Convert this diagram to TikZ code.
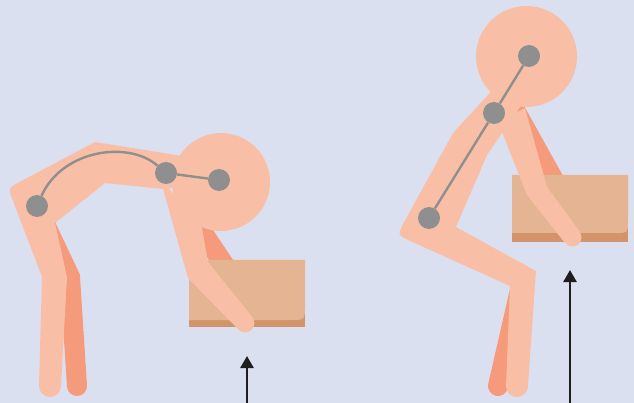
\documentclass[tikz,border=0pt]{standalone}
\usetikzlibrary{arrows.meta}
\definecolor{bgblue}{RGB}{218,224,240}
\definecolor{skin}{RGB}{249,191,166}
\definecolor{skindark}{RGB}{245,154,122}
\definecolor{boxtop}{RGB}{229,180,147}
\definecolor{boxbase}{RGB}{211,148,108}
\definecolor{bone}{RGB}{143,143,143}
\definecolor{ink}{RGB}{30,30,30}

\begin{document}
\begin{tikzpicture}[x=1pt, y=-1pt,
    farlimb/.style={draw=skindark, line width=20pt, line cap=round, line join=miter},
    joint/.style={circle, fill=bone, minimum size=22pt, inner sep=0pt},
    spine/.style={draw=bone, line width=2.4pt},
    lift/.style={-{Triangle[length=12pt, width=13pt]}, draw=ink, line width=2.6pt}
]
\fill[bgblue] (0,0) rectangle (634,403);
\useasboundingbox (0,0) rectangle (634,403);

% stooped lifter
\draw[farlimb] (44,222) -- (70,277) -- (77,386);
\draw[farlimb] (185,206) -- (245,296);
\fill[skin] (20.4,181.5) -- (95,142) -- (182,156) -- (200,185) -- (163,189) -- (105,183)
  -- (55,223) -- (67,277) -- (61,386) -- (39,386) -- (42,277) -- (13,201)
  .. controls (8,188) .. (20.4,181.5) -- cycle;
\fill[skin] (50,386) circle[radius=11pt];
\fill[skin] (221,182) circle[radius=49pt];
\fill[boxbase] (189,260) rectangle (305,327);
\fill[boxtop] (189,260) -- (305,260) -- (305,305) .. controls (305,320) .. (290,320) -- (189,320) -- cycle;
\fill[skin] (160,178) -- (188,278) -- (237,328) -- (253,318) -- (208,262) -- (202,228) -- cycle;
\fill[skin] (245,323) circle[radius=9.4pt];
\node[joint] (hipL)  at (37,206)  {};
\node[joint] (neckL) at (166,173) {};
\node[joint] (headL) at (219,180) {};
\draw[spine] (hipL) .. controls (62,150) and (128,140) .. (neckL) -- (headL);

% squatting lifter
\draw[farlimb] (520,290) -- (498,386);
\draw[farlimb] (516,112) -- (575,218);
\fill[skin] (404.7,221) -- (453,133) -- (500,82) -- (525,100) -- (502,133) -- (487,155)
  -- (456,227) -- (536,271) -- (528,386) -- (506,386) -- (510,286) -- (411.6,241.6)
  .. controls (397,235) .. (404.7,221) -- cycle;
\fill[skin] (517,386) circle[radius=11pt];
\fill[skin] (526.5,56.5) circle[radius=50.5pt];
\fill[boxbase] (512,175) rectangle (628,242);
\fill[boxtop] (512,175) -- (628,175) -- (628,220) .. controls (628,233) .. (615,233) -- (512,233) -- cycle;
\fill[skin] (498,122) -- (527,195) -- (565,243) -- (580,232) -- (547,187) -- (525,108) -- cycle;
\fill[skin] (572.5,237.5) circle[radius=9pt];
\node[joint] (hipR)  at (429,218) {};
\node[joint] (neckR) at (494,113) {};
\node[joint] (headR) at (529,56)  {};
\draw[spine] (hipR) -- (neckR) -- (headR);

\coordinate (baseL) at (247,403);
\coordinate (tipL)  at (247,356);
\coordinate (baseR) at (570,403);
\coordinate (tipR)  at (570,270);
\draw[lift] (baseL) -- (tipL);
\draw[lift] (baseR) -- (tipR);
\end{tikzpicture}
\end{document}
